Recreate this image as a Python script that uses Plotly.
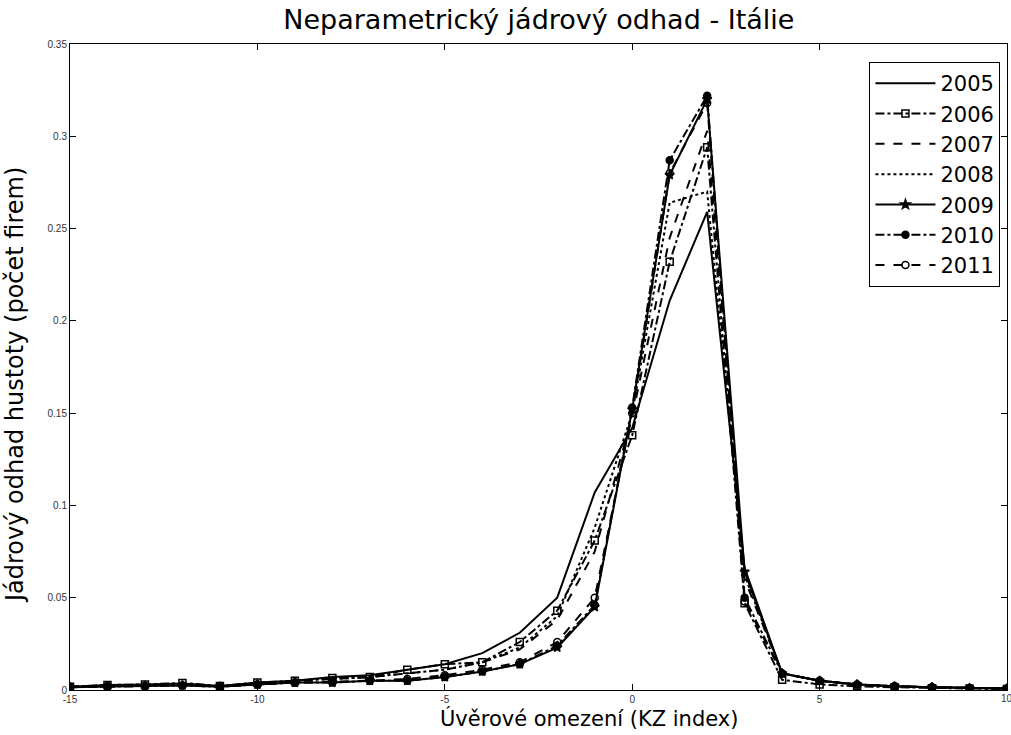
import plotly.graph_objects as go

x_vals = list(range(-15, 11))

y2005 = [0.0018, 0.0027, 0.003, 0.0035, 0.0022, 0.004, 0.005, 0.007, 0.008, 0.011, 0.014, 0.020, 0.031, 0.050, 0.107, 0.142, 0.211, 0.259, 0.066, 0.009, 0.005, 0.003, 0.002, 0.0015, 0.001, 0.0008]
y2006 = [0.0018, 0.0027, 0.003, 0.0038, 0.0022, 0.004, 0.005, 0.0065, 0.007, 0.011, 0.014, 0.015, 0.026, 0.043, 0.081, 0.138, 0.232, 0.294, 0.047, 0.0055, 0.003, 0.002, 0.0015, 0.001, 0.0008, 0.0006]
y2007 = [0.0018, 0.0025, 0.0028, 0.0033, 0.002, 0.0035, 0.005, 0.006, 0.007, 0.009, 0.011, 0.015, 0.022, 0.038, 0.075, 0.148, 0.245, 0.303, 0.060, 0.009, 0.005, 0.003, 0.002, 0.0015, 0.001, 0.0008]
y2008 = [0.0018, 0.0025, 0.0028, 0.0033, 0.002, 0.0035, 0.005, 0.006, 0.007, 0.009, 0.011, 0.015, 0.023, 0.040, 0.088, 0.150, 0.264, 0.270, 0.062, 0.009, 0.005, 0.003, 0.002, 0.0015, 0.001, 0.0008]
y2009 = [0.0015, 0.002, 0.0022, 0.0025, 0.0018, 0.003, 0.004, 0.004, 0.005, 0.005, 0.007, 0.010, 0.014, 0.023, 0.045, 0.152, 0.279, 0.320, 0.064, 0.009, 0.005, 0.003, 0.002, 0.0015, 0.001, 0.0008]
y2010 = [0.0015, 0.002, 0.0022, 0.0025, 0.0018, 0.003, 0.004, 0.004, 0.005, 0.005, 0.007, 0.010, 0.014, 0.024, 0.046, 0.153, 0.287, 0.322, 0.050, 0.009, 0.005, 0.003, 0.002, 0.0015, 0.001, 0.0008]
y2011 = [0.0015, 0.002, 0.0022, 0.0025, 0.0018, 0.003, 0.004, 0.0045, 0.005, 0.006, 0.008, 0.011, 0.015, 0.026, 0.050, 0.150, 0.280, 0.318, 0.048, 0.009, 0.005, 0.003, 0.002, 0.0015, 0.001, 0.0008]

series = [
    ("2005", y2005, "solid", None),
    ("2006", y2006, "dashdot", "square-open"),
    ("2007", y2007, "dash", None),
    ("2008", y2008, "dot", None),
    ("2009", y2009, "solid", "star"),
    ("2010", y2010, "dashdot", "circle"),
    ("2011", y2011, "dash", "circle-open"),
]

x_ticks = [-15, -10, -5, 0, 5, 10]
y_ticks = [0, 0.05, 0.1, 0.15, 0.2, 0.25, 0.3, 0.35]
y_tick_text = ["0", "0.05", "0.1", "0.15", "0.2", "0.25", "0.3", "0.35"]

fig = go.Figure()
for name, ys, dash, sym in series:
    kw = dict(x=x_vals, y=ys, name=name,
              line=dict(color="black", width=2, dash=dash))
    if sym:
        kw["mode"] = "lines+markers"
        kw["marker"] = dict(symbol=sym, size=7, color="black",
                            line=dict(color="black", width=1.5))
    else:
        kw["mode"] = "lines"
    fig.add_trace(go.Scatter(**kw))

big_font = "DejaVu Sans, Liberation Sans, sans-serif"
tick_font = "Liberation Sans, Arial, sans-serif"
fig.update_layout(
    width=1011, height=735,
    margin=dict(l=70, r=4, t=44, b=45),
    paper_bgcolor="white", plot_bgcolor="white",
    font=dict(family=big_font, color="black"),
    title=dict(text="Neparametrický jádrový odhad - Itálie", x=0.533, xanchor="center",
               y=0.973, yanchor="middle", font=dict(size=27, color="black", family=big_font)),
    legend=dict(x=0.993, y=0.972, xanchor="right", yanchor="top",
                bgcolor="white", bordercolor="black", borderwidth=1,
                font=dict(size=21, color="black", family=big_font), itemwidth=60,
                tracegroupgap=0),
    showlegend=True,
)
fig.add_annotation(x=10, y=0, xref="x", yref="y", text="10", showarrow=False,
                   yanchor="top", xanchor="center", yshift=-1,
                   font=dict(size=10, color="#333", family=tick_font))
# axis titles (paper coords relative to plot area: l=70, w=937, bottom=690, h=646)
fig.add_annotation(x=(589 - 70) / 937, y=(690 - 718) / 646, xref="paper", yref="paper",
                   text="Úvěrové omezení (KZ index)", showarrow=False,
                   xanchor="center", yanchor="middle",
                   font=dict(size=21, color="black", family=big_font))
fig.add_annotation(x=(15 - 70) / 937, y=(690 - 385) / 646, xref="paper", yref="paper",
                   text="Jádrový odhad hustoty (počet firem)", showarrow=False,
                   textangle=-90, xanchor="center", yanchor="middle",
                   font=dict(size=24, color="black", family=big_font))
fig.update_xaxes(range=[-15, 10], tickvals=x_ticks, ticktext=[str(v) for v in x_ticks],
                 ticks="inside", ticklen=6, tickcolor="black", mirror="ticks",
                 showline=True, linecolor="black", linewidth=1, showgrid=False,
                 zeroline=False, tickfont=dict(size=10, color="#333", family=tick_font))
fig.update_yaxes(range=[0, 0.35], tickvals=y_ticks, ticktext=y_tick_text,
                 ticks="inside", ticklen=6, tickcolor="black", mirror="ticks",
                 showline=True, linecolor="black", linewidth=1, showgrid=False,
                 zeroline=False, tickfont=dict(size=10, color="#333", family=tick_font))

fig.write_html("out.html")
